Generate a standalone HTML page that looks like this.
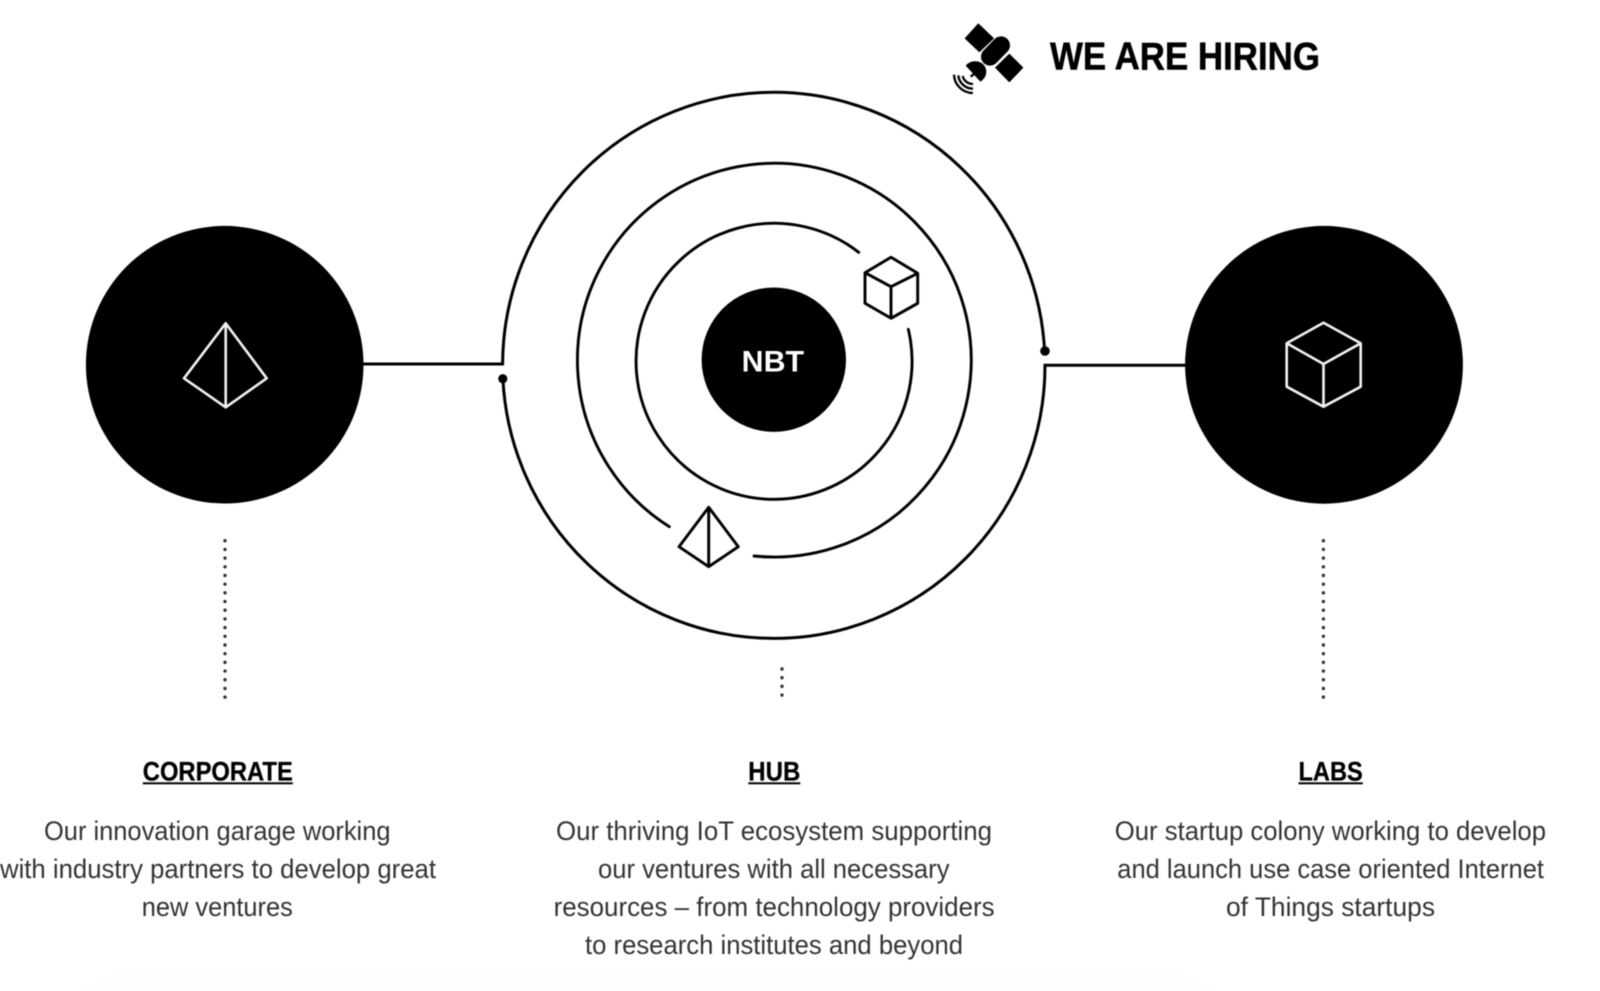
<!DOCTYPE html>
<html lang="en">
<head>
<meta charset="utf-8">
<title>NBT diagram</title>
<style>
html,body{margin:0;padding:0;background:#fff;width:1600px;height:991px;overflow:hidden}
svg{display:block;position:absolute;left:0;top:0}
text{font-family:"Liberation Sans",sans-serif}
.b{font-size:27px;fill:#333;text-anchor:start}
.h{font-size:27px;font-weight:bold;fill:#000;stroke:#000;stroke-width:.3px}
</style>
</head>
<body>
<svg width="1600" height="991" viewBox="0 0 1600 991" xmlns="http://www.w3.org/2000/svg">
  <rect width="1600" height="991" fill="#fff"/>
  <polygon points="82,991 120,972 1180,972 1215,991" fill="#fdfdfd"/>

  <g style="filter:blur(.4px)">
    <!-- side circles -->
    <circle cx="224.7" cy="364.7" r="138.8" fill="#000"/>
    <circle cx="1324" cy="364.8" r="138.9" fill="#000"/>

    <!-- connector lines + outer arcs -->
    <path d="M363 364 H502.6 A271.2 273.05 0 0 1 773.8 92.3 A271.2 273.05 0 0 1 1044.6 351" fill="none" stroke="#000" stroke-width="3" stroke-linejoin="miter"/>
    <path d="M502.9 378.7 A271.2 273.05 0 0 0 773.8 638.4 A271.2 273.05 0 0 0 1045 365.3 H1186" fill="none" stroke="#000" stroke-width="3" stroke-linejoin="miter"/>
    <circle cx="502.8" cy="378.7" r="4.6" fill="#000"/>
    <circle cx="1045" cy="351" r="4.8" fill="#000"/>

    <!-- middle arc -->
    <path d="M754 556 A196.9 196.9 0 1 0 669.3 526.7" fill="none" stroke="#000" stroke-width="2.9" stroke-linecap="round"/>
    <!-- inner arc -->
    <path d="M858.7 252.3 A138 138 0 1 0 908.3 329.3" fill="none" stroke="#000" stroke-width="2.9" stroke-linecap="round"/>

    <!-- NBT core -->
    <circle cx="773.8" cy="359.7" r="72.2" fill="#000"/>

    <!-- small cube -->
    <g fill="none" stroke="#000" stroke-width="2.9" stroke-linejoin="round">
      <polygon points="891,257.3 917.7,273.3 917.7,303.3 891,318.3 865,303.3 865,272.7"/>
      <path d="M865 272.7 L891 286.7 L917.7 273.3 M891 286.7 V318.3"/>
    </g>
    <!-- small pyramid -->
    <g fill="none" stroke="#000" stroke-width="2.9" stroke-linejoin="round">
      <polygon points="708.7,507.3 738.3,546.7 708.7,566.7 679,546.7"/>
      <path d="M708.7 507.3 V566.7"/>
    </g>

    <!-- large pyramid white -->
    <g fill="none" stroke="#f2f2f2" stroke-width="2.6" stroke-linejoin="round">
      <polygon points="225.7,323.3 266.7,378.3 225.7,407.3 184,378.3"/>
      <path d="M225.7 323.3 V407.3"/>
    </g>
    <!-- large cube white -->
    <g fill="none" stroke="#f2f2f2" stroke-width="2.6" stroke-linejoin="round">
      <polygon points="1323.5,322.7 1360.7,343.3 1360.7,386.7 1323.5,406.7 1286.7,386.7 1286.7,343.3"/>
      <path d="M1286.7 343.3 L1323.5 364 L1360.7 343.3 M1323.5 364 V406.7"/>
    </g>

    <!-- dotted verticals -->
    <path d="M225 540.7 V700" fill="none" stroke="#333" stroke-width="3.4" stroke-linecap="round" stroke-dasharray="0.01 8.68"/>
    <path d="M1323.4 540.7 V700" fill="none" stroke="#333" stroke-width="3.4" stroke-linecap="round" stroke-dasharray="0.01 8.68"/>
    <path d="M782 669 V698" fill="none" stroke="#333" stroke-width="3.4" stroke-linecap="round" stroke-dasharray="0.01 8.68"/>

    <!-- satellite -->
    <g transform="translate(900 0) scale(.33333)">
      <polygon points="235,72 280,115 238,155 196,115" fill="#000" stroke="#000" stroke-width="3" stroke-linejoin="round"/>
      <polygon points="328,163 368,203 328,245 287,203" fill="#000" stroke="#000" stroke-width="3" stroke-linejoin="round"/>
      <line x1="303" y1="136" x2="270" y2="170" stroke="#000" stroke-width="54" stroke-linecap="round"/>
      <path d="M197 197 C212 178 242 180 254 198 C264 216 258 234 241 245 Z" fill="#000"/>
      <path d="M222 222 L212 230" stroke="#000" stroke-width="7" fill="none"/>
      <g fill="none" stroke="#000" stroke-width="7">
        <path d="M162 224 A57 57 0 0 0 219 279"/>
        <path d="M175 226 A44 44 0 0 0 219 266"/>
        <path d="M188 228 A31 31 0 0 0 219 252"/>
      </g>
    </g>

    <!-- text -->
    <text x="1050" y="69.5" font-size="38.5" font-weight="bold" fill="#000" stroke="#000" stroke-width=".5" textLength="270" lengthAdjust="spacingAndGlyphs">WE ARE HIRING</text>
    <text x="741.7" y="371.5" font-size="30" font-weight="bold" fill="#fff" textLength="62.3" lengthAdjust="spacingAndGlyphs">NBT</text>

    <text class="h" x="142.8" y="780.7" textLength="150" lengthAdjust="spacingAndGlyphs">CORPORATE</text>
    <rect x="142.8" y="782.3" width="150" height="2" fill="#000"/>
    <text class="h" x="748.3" y="780.7" textLength="52" lengthAdjust="spacingAndGlyphs">HUB</text>
    <rect x="748.3" y="782.3" width="52" height="2" fill="#000"/>
    <text class="h" x="1298.5" y="780.7" textLength="64.3" lengthAdjust="spacingAndGlyphs">LABS</text>
    <rect x="1298.5" y="782.3" width="64.3" height="2" fill="#000"/>

    <text class="b" x="44" y="840" textLength="346.5" lengthAdjust="spacingAndGlyphs">Our innovation garage working</text>
    <text class="b" x="0" y="878" textLength="436" lengthAdjust="spacingAndGlyphs">with industry partners to develop great</text>
    <text class="b" x="141.8" y="916" textLength="151" lengthAdjust="spacingAndGlyphs">new ventures</text>

    <text class="b" x="556" y="840" textLength="436" lengthAdjust="spacingAndGlyphs">Our thriving IoT ecosystem supporting</text>
    <text class="b" x="598" y="878" textLength="351.5" lengthAdjust="spacingAndGlyphs">our ventures with all necessary</text>
    <text class="b" x="553.6" y="916" textLength="441" lengthAdjust="spacingAndGlyphs">resources – from technology providers</text>
    <text class="b" x="585" y="954" textLength="378" lengthAdjust="spacingAndGlyphs">to research institutes and beyond</text>

    <text class="b" x="1114.8" y="840" textLength="431.2" lengthAdjust="spacingAndGlyphs">Our startup colony working to develop</text>
    <text class="b" x="1117.3" y="878" textLength="426.7" lengthAdjust="spacingAndGlyphs">and launch use case oriented Internet</text>
    <text class="b" x="1226" y="916" textLength="209" lengthAdjust="spacingAndGlyphs">of Things startups</text>
  </g>
</svg>
</body>
</html>
